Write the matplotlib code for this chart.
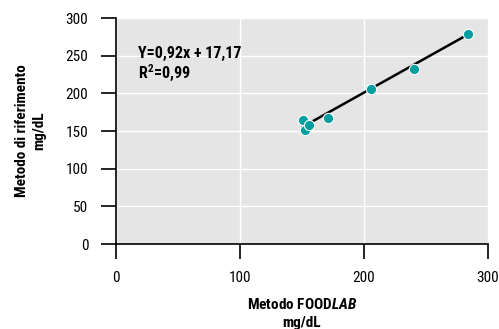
import matplotlib
matplotlib.use("Agg")
import matplotlib.pyplot as plt
import numpy as np

FONT = 'Roboto Condensed'
plt.rcParams['font.family'] = [FONT, 'DejaVu Sans']
plt.rcParams['mathtext.fontset'] = 'custom'
plt.rcParams['mathtext.rm'] = FONT + ':bold'
plt.rcParams['mathtext.bf'] = FONT + ':bold'
plt.rcParams['mathtext.it'] = FONT + ':italic:bold'

# values
foodlab = [150.5, 152.4, 155.6, 170.7, 205.4, 240.6, 283.6]
riferimento = [164.7, 151.4, 158.0, 166.9, 205.8, 232.4, 278.5]
slope = 0.92
intercept = 17.17
ticks = [0, 100, 200, 300]
yticks = [0, 50, 100, 150, 200, 250, 300]

fig = plt.figure(figsize=(4.99, 3.29), dpi=100)
ax = fig.add_axes([0.2325, 0.258, 0.7455, 0.687])
ax.set_facecolor('#e5e5e5')
ax.grid(True, color='white', linewidth=1.0)
ax.set_axisbelow(True)

xs = np.array([min(foodlab), max(foodlab)])
ax.plot(xs, slope * xs + intercept, color='black', linewidth=1.8, zorder=2)
ax.scatter(foodlab, riferimento, s=55, color='#009e9e', edgecolors='white',
           linewidths=0.8, zorder=3)

ax.set_xlim(0, 300)
ax.set_ylim(0, 300)
ax.set_xticks(ticks)
ax.set_yticks(yticks)
for s in ['top', 'right']:
    ax.spines[s].set_visible(False)
for s in ['left', 'bottom']:
    ax.spines[s].set_linewidth(1.2)
ax.tick_params(axis='both', direction='out', length=11, width=1.2,
               labelsize=11, colors='black')
ax.tick_params(axis='y', pad=9)
ax.tick_params(axis='x', pad=8)

ax.text(17.5, 253, 'Y=0,92x + 17,17', fontsize=11.5, fontweight='bold', va='center')
ax.text(17.5, 228, r'R$^2$=0,99', fontsize=11.5, fontweight='bold', va='center')

ax.set_xlabel('Metodo FOOD$\\mathit{LAB}$\nmg/dL', fontsize=11, fontweight='bold',
              labelpad=9, linespacing=1.4)
ax.set_ylabel('Metodo di riferimento\nmg/dL', fontsize=11, fontweight='bold',
              labelpad=14, linespacing=1.25)

fig.savefig('out.png', dpi=100)
